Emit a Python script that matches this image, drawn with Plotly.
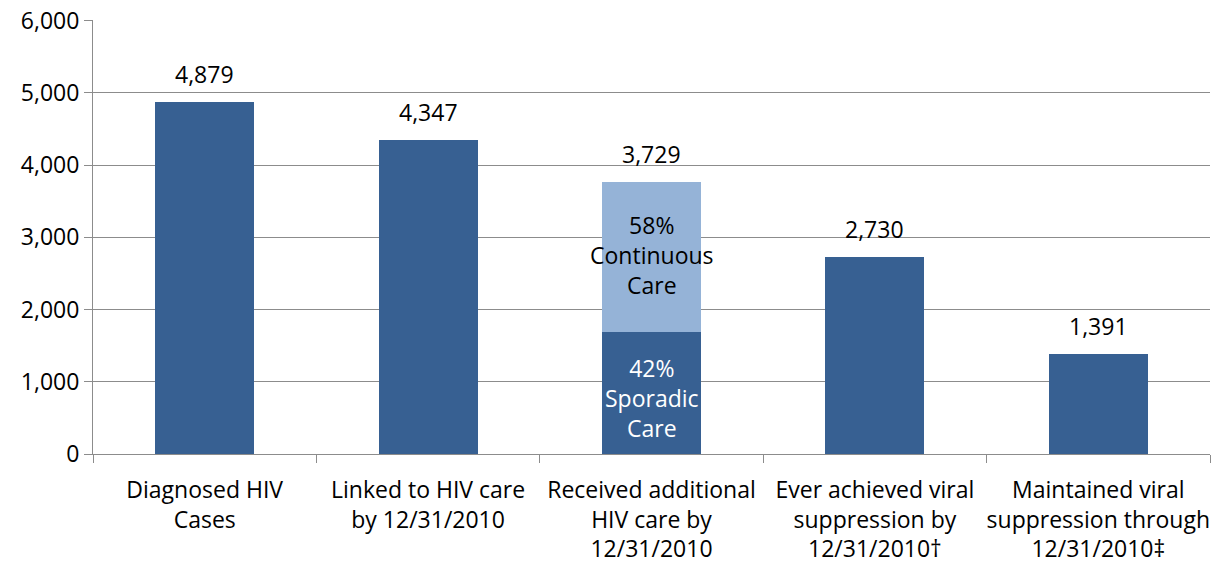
import plotly.graph_objects as go

# ---------------------------------------------------------------------------
# Data
# ---------------------------------------------------------------------------
categories = [
    "Diagnosed HIV<br>Cases",
    "Linked to HIV care<br>by 12/31/2010",
    "Received additional<br>HIV care by<br>12/31/2010",
    "Ever achieved viral<br>suppression by<br>12/31/2010\u2020",
    "Maintained viral<br>suppression through<br>12/31/2010\u2021",
]
main_values = [4879, 4347, 1690, 2730, 1391]          # dark segment / whole bar
continuous_values = [None, None, 2075, None, None]     # light segment, bar 3 only
total_labels = [4879, 4347, 3729, 2730, 1391]
inner_labels = {
    2: ("42%<br>Sporadic<br>Care", "58%<br>Continuous<br>Care"),
}
y_ticks = [0, 1000, 2000, 3000, 4000, 5000, 6000]

DARK = "#376092"
LIGHT = "#95B3D7"
GRID = "#8C8C8C"
FONT = "Open Sans"
FS = 23

fig = go.Figure()
fig.add_trace(go.Bar(x=categories, y=main_values, marker=dict(color=DARK, line_width=0),
                     hoverinfo="y", name="Sporadic"))
fig.add_trace(go.Bar(x=categories, y=continuous_values, marker=dict(color=LIGHT, line_width=0),
                     hoverinfo="y", name="Continuous"))

annotations = []
for i, cat in enumerate(categories):
    top = main_values[i] + (continuous_values[i] or 0)
    annotations.append(dict(
        x=cat, y=top, text=f"{total_labels[i]:,}", showarrow=False,
        yanchor="bottom", yshift=10, font=dict(size=FS, color="#000000", family=FONT),
    ))
for i, (low_txt, high_txt) in inner_labels.items():
    low = main_values[i]
    high = continuous_values[i]
    annotations.append(dict(
        x=categories[i], y=low / 2, text=low_txt, showarrow=False, yshift=-5,
        font=dict(size=FS, color="#FFFFFF", family=FONT),
    ))
    annotations.append(dict(
        x=categories[i], y=low + high / 2, text=high_txt, showarrow=False, yshift=2,
        font=dict(size=FS, color="#000000", family=FONT),
    ))

fig.update_layout(
    barmode="stack",
    bargap=0.557,
    width=1211, height=568,
    margin=dict(l=93, r=1, t=20, b=114),
    paper_bgcolor="white",
    plot_bgcolor="white",
    showlegend=False,
    font=dict(family=FONT, size=FS, color="#000000"),
    annotations=annotations,
    xaxis=dict(
        type="category",
        showgrid=False,
        showline=True, linecolor=GRID, linewidth=1,
        ticks="outside", tickson="boundaries", ticklen=8, tickcolor=GRID,
        tickfont=dict(size=FS, family=FONT, color="#000000"),
        tickangle=0,
        ticklabelstandoff=15,
        ticklabeloverflow="allow",
        automargin=False,
    ),
    yaxis=dict(
        range=[0, 6008],
        tickvals=y_ticks,
        tickformat=",d",
        showgrid=True, gridcolor=GRID, gridwidth=1,
        showline=True, linecolor=GRID, linewidth=1,
        ticks="outside", ticklen=8, tickcolor=GRID,
        tickfont=dict(size=FS, family=FONT, color="#000000"),
        ticklabeloverflow="allow",
        zeroline=False,
        automargin=False,
    ),
)

# drop the default 8px body margin so the figure fills the window exactly
fig.write_html("out.html", config={"displayModeBar": False},
               post_script="document.body.style.margin='0';")
